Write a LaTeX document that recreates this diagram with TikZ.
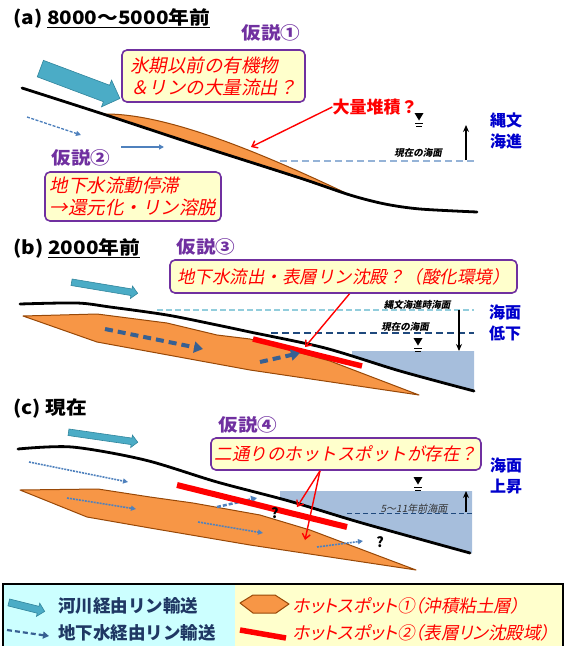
\documentclass[tikz,border=0pt]{standalone}
\usepackage{fontspec}
\newfontfamily\jp{Noto Sans CJK JP}
\newfontfamily\jpwide[FakeStretch=1.12]{Noto Sans CJK JP}
\newfontfamily\jpsl[FakeSlant=0.2]{Noto Sans CJK JP}
\newfontfamily\jpslp[FakeSlant=0.2,RawFeature=+palt]{Noto Sans CJK JP}
\usetikzlibrary{arrows.meta,shapes.arrows,positioning}

\definecolor{hypopurple}{RGB}{112,48,160}
\definecolor{notefill}{RGB}{255,255,204}
\definecolor{riverteal}{RGB}{75,172,198}
\definecolor{riverdark}{RGB}{49,133,156}
\definecolor{clayorange}{RGB}{247,150,70}
\definecolor{claybrown}{RGB}{152,72,7}
\definecolor{gwblue}{RGB}{55,96,146}
\definecolor{gwlight}{RGB}{79,129,189}
\definecolor{seafill}{RGB}{166,190,220}
\definecolor{seadash}{RGB}{149,179,215}
\definecolor{oldsea}{RGB}{146,205,220}
\definecolor{navy}{RGB}{31,73,125}
\definecolor{seablue}{RGB}{0,0,204}
\definecolor{legtext}{RGB}{31,56,100}
\definecolor{legleft}{RGB}{204,255,255}

\tikzset{
  pics/wtab/.style={code={
    \fill (-4.5,-4) -- (4.5,-4) -- (0,3.5) -- cycle;
    \draw[line width=.9pt] (-4,6.5) -- (4,6.5) (-3,9.5) -- (3,9.5);
  }}
}

\begin{document}
\begin{tikzpicture}[x=1pt,y=-1pt,
    paneltitle/.style={anchor=west,inner sep=0,font=\jpwide\bfseries\fontsize{18.5}{18.5}\selectfont},
    hypolabel/.style={inner sep=0,text=hypopurple,font=\jpwide\bfseries\fontsize{17.5}{17.5}\selectfont},
    claimbox/.style={draw=hypopurple,line width=1.6pt,fill=notefill,rounded corners=5pt,
      inner sep=2pt,text=red,align=left,font=\jpsl\fontsize{17.5}{22}\selectfont},
    ground/.style={line width=2.8pt,line cap=round,line join=round},
    claylens/.style={fill=clayorange,draw=claybrown,line width=1pt,line join=round},
    river/.style={single arrow,fill=riverteal,draw=riverdark,line width=.6pt,inner xsep=0,minimum width=0pt},
    gwthick/.style={gwblue,line width=4pt,dash pattern=on 8pt off 5pt,-{Triangle[length=9pt,width=11pt]}},
    gwfine/.style={gwlight,line width=1.6pt,dash pattern=on 2pt off 1pt,-{Triangle[length=5pt,width=5pt]}},
    callout/.style={red,line width=1.4pt,-{Straight Barb[length=5pt,width=8pt]}},
    hotline/.style={red,line width=5.5pt},
    level/.style={line width=1.5pt,-{Stealth[length=7pt,width=6pt]}},
    seatext/.style={inner sep=0,text=seablue,align=center,font=\jp\bfseries\fontsize{16}{21}\selectfont},
    tinylabel/.style={inner sep=0,font=\jpsl\bfseries\fontsize{9.5}{9.5}\selectfont},
    qmark/.style={inner sep=0,font=\jp\bfseries\fontsize{14}{14}\selectfont},
    legendtext/.style={anchor=west,inner sep=0,font=\jp\bfseries\fontsize{17.5}{17.5}\selectfont,text=legtext},
    legendhot/.style={anchor=west,inner sep=0,font=\jpslp\fontsize{17.5}{17.5}\selectfont,text=red}]
  \useasboundingbox (0,0) rectangle (564,646);

  % (a) 8000-5000 years ago
  \node (titleA) [paneltitle] at (13,18) {(a) \underline{8000～5000年前}};
  \node (hypoA) [hypolabel] at (271,33) {仮説①};
  \node (claimA) [claimbox,font=\jpsl\fontsize{18.5}{22}\selectfont,minimum width=183pt,
    minimum height=52pt] at (213.5,76) {氷期以前の有機物\\＆リンの大量流出？};
  \draw[seadash,line width=2pt,dash pattern=on 7pt off 4pt] (280,161) -- (474,161);
  \draw[claylens] (103,114) .. controls (160,113) and (245,145) .. (350,195) -- cycle;
  \draw[ground] plot[smooth] coordinates {(22,88) (103,114) (200,146) (300,178) (350,195)
    (385,204) (420,209) (477,212)};
  \node (riverA) [river,minimum height=85pt,inner ysep=8.5pt,single arrow head extend=5.5pt,
    rotate=-20.6] at (76,82) {};
  \draw[gwlight,line width=1.3pt,dash pattern=on 3pt off 1.5pt,-{Triangle[length=5pt,width=5pt]}]
    (27,117) -- (81,135);
  \draw[gwlight,line width=1.6pt,-{Triangle[length=5pt,width=5pt]}] (121,147) -- (164,147);
  \node (pileA) [inner sep=0,text=red,font=\jp\bfseries\fontsize{17}{17}\selectfont]
    at (375,107) {大量堆積？};
  \coordinate (pileTip) at (251,147);
  \draw[callout] (pileA.west) -- (pileTip);
  \pic at (419,117) {wtab};
  \node (nowA) [tinylabel] at (418,153) {現在の海面};
  \draw[level] (466,160) -- (466,125);
  \node (seaA) [seatext] at (506,131) {縄文\\海進};
  \node (hypoB) [hypolabel] at (81,158) {仮説②};
  \node (claimB) [claimbox,font=\jpsl\fontsize{18.5}{22}\selectfont,minimum width=176pt,
    minimum height=49pt] at (133,196.5) {地下水流動停滞\\→還元化・リン溶脱};

  % (b) 2000 years ago
  \node (titleB) [paneltitle] at (13,248) {(b) \underline{2000年前}};
  \node (hypoC) [hypolabel] at (206,247) {仮説③};
  \node (claimC) [claimbox,minimum width=347pt,minimum height=33pt] at (343.5,276.5)
    {地下水流出・表層リン沈殿？（酸化環境）};
  \node (riverB) [river,minimum height=67pt,inner ysep=3pt,single arrow head extend=3pt,
    rotate=-9.5] at (103,287.5) {};
  \fill[seafill] (352,351) -- (474,351) -- (474,391) -- (400,372) -- (352,357) -- cycle;
  \draw[oldsea,line width=1.3pt,dash pattern=on 6pt off 3pt] (157,310) -- (474,310);
  \draw[navy,line width=1.5pt,dash pattern=on 7pt off 4pt] (271,333) -- (474,333);
  \draw[claylens] (23,316) -- (97,314) -- (167,323) -- (217,335) -- (250,339) -- (330,361)
    -- (419,395) -- (250,370) -- (97,342) -- cycle;
  \draw[hotline] (253,339) -- (362,366);
  \draw[ground] plot[smooth] coordinates {(20,304) (77,303) (110,307) (167,315) (217,325)
    (250,332) (325,348) (400,371) (474,391)};
  \draw[gwthick] (105,329) -- (203,349);
  \draw[gwthick] (260,362) -- (300,353);
  \coordinate (hotTipB) at (305,347);
  \draw[callout] ([xshift=6pt]claimC.south) -- (hotTipB);
  \pic at (418,342) {wtab};
  \node (oldB) [tinylabel] at (417,305) {縄文海進時海面};
  \node (nowB) [tinylabel] at (405,327) {現在の海面};
  \draw[level] (459,310) -- (459,351);
  \node (seaB) [seatext] at (505,323) {海面\\低下};

  % (c) present
  \node (titleC) [paneltitle] at (13,408) {(c) 現在};
  \node (hypoD) [hypolabel] at (248,425) {仮説④};
  \node (claimD) [claimbox,minimum width=270pt,minimum height=32pt] at (346,454)
    {二通りのホットスポットが存在？};
  \node (riverC) [river,minimum height=70pt,inner ysep=3pt,single arrow head extend=3pt,
    rotate=-8.2] at (101.5,437) {};
  \fill[seafill] (280,491) -- (472,491) -- (472,553) -- (362,523) -- (289,502) -- (280,499) -- cycle;
  \draw[navy,line width=1pt,dash pattern=on 5pt off 3pt] (347,513) -- (472,513);
  \draw[claylens] (20,490) -- (98,489) -- (150,497) -- (193,503) -- (260,515) -- (310,530)
    -- (416,570) -- (250,545) -- (150,528) -- (87,517) -- cycle;
  \draw[gwfine] (29,462) -- (128,482);
  \foreach \a/\b in {{(67,498)}/{(136,509)},{(198,522)}/{(263,533)},{(317,547)}/{(363,541)}}
    \draw[gwfine] \a -- \b;
  \draw[gwlight,line width=2.5pt,dash pattern=on 4pt off 2pt,-{Triangle[length=6pt,width=7pt]}]
    (217,507) -- (257,498);
  \draw[hotline,line width=6pt] (177,485) -- (347,527);
  \draw[ground] plot[smooth] coordinates {(18,449) (72,447) (145,460) (217,482) (289,501)
    (362,523) (470,553)};
  \coordinate (hotTipC) at (297,507);
  \coordinate (clayTipC) at (305,540);
  \draw[callout] ([xshift=-26pt]claimD.south) -- (hotTipC);
  \draw[callout] ([xshift=-26pt]claimD.south) -- (clayTipC);
  \node (qHot) [qmark] at (275,513) {?};
  \node (qClay) [qmark] at (380,542) {?};
  \pic at (418,481) {wtab};
  \node (pastC) [inner sep=0,font=\jpsl\fontsize{10}{10}\selectfont,text=black!80] at (414,509)
    {5～11年前海面};
  \draw[level] (466,512) -- (466,491);
  \node (seaC) [seatext] at (506,476) {海面\\上昇};

  % legend
  \fill[legleft] (3,584) rectangle (235,646);
  \fill[notefill] (235,584) rectangle (563,646);
  \draw[line width=1.5pt] (3,646) -- (3,584) -- (563,584) -- (563,646);
  \node (legRiver) [river,minimum height=37pt,inner ysep=3.25pt,single arrow head extend=3.25pt,
    rotate=-14] at (25,606.5) {};
  \draw[gwblue,line width=2.2pt,dash pattern=on 5pt off 3pt,-{Triangle[length=6pt,width=7pt]}]
    (7,630) -- (49,636);
  \node (legRiverTxt) [legendtext] at (58,606) {河川経由リン輸送};
  \node (legGwTxt) [legendtext] at (58,633) {地下水経由リン輸送};
  \draw[claylens] (240,603) -- (253,595) -- (275,595) -- (289,604) -- (276,613) -- (253,613) -- cycle;
  \draw[hotline] (240,630) -- (286,638);
  \node (legClay) [legendhot] at (293,606) {ホットスポット①（沖積粘土層）};
  \node (legHot) [legendhot] at (293,633) {ホットスポット②（表層リン沈殿域）};
\end{tikzpicture}
\end{document}
